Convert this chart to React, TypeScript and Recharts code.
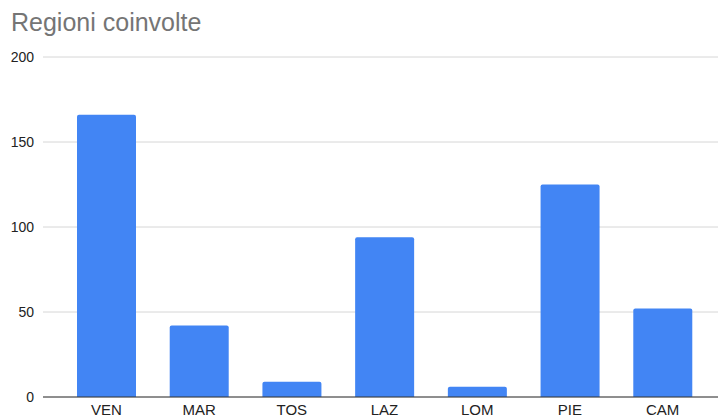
import React from 'react';
import { BarChart, Bar, XAxis, YAxis, CartesianGrid } from 'recharts';

// Regions and number of cases per region
const regions = ['VEN', 'MAR', 'TOS', 'LAZ', 'LOM', 'PIE', 'CAM'];
const counts = [166, 42, 9, 94, 6, 125, 52];
const yTicks = [0, 50, 100, 150, 200];

const data = regions.map((r, i) => ({ region: r, count: counts[i] }));

const FONT = '"Liberation Sans", Arial, Helvetica, sans-serif';

export default function App() {
  return (
    <div style={{ position: 'absolute', left: 0, top: 0, width: 718, height: 419, background: '#fff', overflow: 'hidden' }}>
      <div
        style={{
          position: 'absolute',
          left: 11,
          top: 8,
          fontFamily: FONT,
          fontSize: 25,
          lineHeight: '28px',
          color: '#757575',
        }}
      >
        Regioni coinvolte
      </div>
      <BarChart
        width={718}
        height={419}
        data={data}
        margin={{ top: 57, right: 0, bottom: 0, left: 0 }}
        barCategoryGap={0}
      >
        <CartesianGrid vertical={false} stroke="#d6d6d6" strokeWidth={1} />
        <YAxis
          type="number"
          domain={[0, 200]}
          ticks={yTicks}
          width={43}
          axisLine={false}
          tickLine={false}
          tickSize={0}
          tickMargin={9}
          interval={0}
          tick={{ fill: '#222', fontSize: 14, fontFamily: FONT }}
        />
        <XAxis
          dataKey="region"
          height={22}
          padding={{ left: 17, right: 9 }}
          axisLine={{ stroke: '#333', strokeWidth: 1 }}
          tickLine={false}
          tickSize={0}
          tickMargin={7}
          interval={0}
          tick={{ fill: '#222', fontSize: 15, fontFamily: FONT }}
        />
        <Bar dataKey="count" fill="#4285f4" barSize={59} radius={[2, 2, 0, 0]} isAnimationActive={false} />
      </BarChart>
    </div>
  );
}
